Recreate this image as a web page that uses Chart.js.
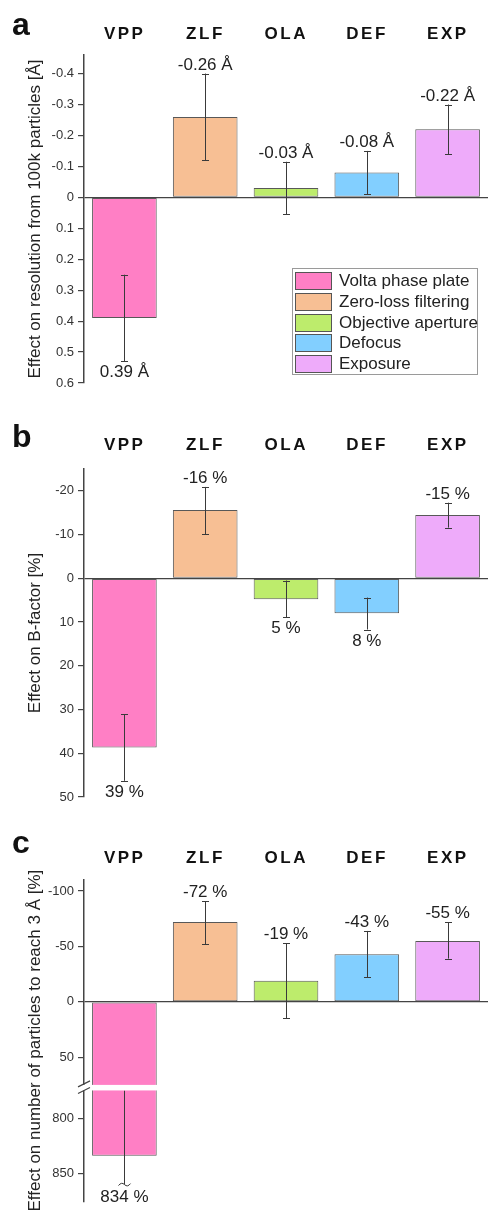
<!DOCTYPE html>
<html>
<head>
<meta charset="utf-8">
<script src="https://cdn.jsdelivr.net/npm/chart.js@4.4.1/dist/chart.umd.min.js"></script>
<style>
  body { margin: 0; background: #fff; }
  .panel { position: relative; width: 488px; }
  canvas { display: block; }
  #legend { position: absolute; left: 292px; top: 268px; width: 186px; height: 107px; border: 1px solid #9a9a9a; box-sizing: border-box; font: 17px "Liberation Sans", Arial, sans-serif; color: #222; }
  #legend .item { position: absolute; left: 2px; height: 18px; }
  #legend .sw { position: absolute; left: 0; top: 0; width: 37px; height: 18px; border: 1px solid #555; box-sizing: border-box; }
  #legend .txt { position: absolute; left: 44px; top: -1px; line-height: 19px; white-space: nowrap; }
</style>
</head>
<body>
<div class="panel" style="height:400px"><canvas id="chartA" width="488" height="400"></canvas><div id="legend"></div></div>
<div class="panel" style="height:415px"><canvas id="chartB" width="488" height="415"></canvas></div>
<div class="panel" style="height:398px"><canvas id="chartC" width="488" height="398"></canvas></div>
<script>
const categories = ["VPP", "ZLF", "OLA", "DEF", "EXP"];
const methodNames = ["Volta phase plate", "Zero-loss filtering", "Objective aperture", "Defocus", "Exposure"];
const barColors = ["#ff7fc5", "#f7bf94", "#bdec6c", "#82cfff", "#eeabfa"];

// a: effect on resolution from 100k particles [Å]
const resolutionValues  = [0.39, -0.26, -0.03, -0.08, -0.22];
const resolutionErrLow  = [0.25, -0.40, -0.115, -0.15, -0.30];
const resolutionErrHigh = [0.53, -0.12, 0.055, -0.01, -0.14];
const resolutionLabels  = ["0.39 Å", "-0.26 Å", "-0.03 Å", "-0.08 Å", "-0.22 Å"];
const resolutionTicks   = [-0.4, -0.3, -0.2, -0.1, 0, 0.1, 0.2, 0.3, 0.4, 0.5, 0.6];

// b: effect on B-factor [%]
const bfactorValues  = [38.7, -15.6, 4.8, 8.0, -14.5];
const bfactorErrLow  = [31.1, -20.9, 0.5, 4.4, -17.3];
const bfactorErrHigh = [46.3, -10.1, 8.9, 11.7, -11.6];
const bfactorLabels  = ["39 %", "-16 %", "5 %", "8 %", "-15 %"];
const bfactorTicks   = [-20, -10, 0, 10, 20, 30, 40, 50];

// c: effect on number of particles to reach 3 Å [%]
const particleValues  = [834, -72, -19, -43, -55];
const particleErrLow  = [760, -91, -53, -64, -72];
const particleErrHigh = [860, -52, 15, -22, -39];
const particleLabels  = ["834 %", "-72 %", "-19 %", "-43 %", "-55 %"];
const particleTicks   = [-100, -50, 0, 50, 800, 850];
const particleGap     = [75, 775];

const FONT = '"Liberation Sans", Arial, sans-serif';

// broken axis for panel c: values between the gap ends are squeezed out
function brk(v) {
  if (v <= particleGap[0]) return v;
  if (v >= particleGap[1]) return v - particleGap[1] + particleGap[0] + 5;
  return particleGap[0] + 5;
}
const same = v => v;

const panelPlugin = {
  id: 'panel',
  afterDatasetsDraw(chart, args, o) {
    const ctx = chart.ctx;
    const ys = chart.scales.y;
    const area = chart.chartArea;
    const meta = chart.getDatasetMeta(0);
    const tf = o.transform;
    ctx.save();
    ctx.strokeStyle = '#3a3a3a';
    ctx.lineWidth = 1;
    const ends = [];
    meta.data.forEach((bar, i) => {
      const x = Math.round(bar.x) + 0.5;
      const lo = o.errLow[i], hi = o.errHigh[i];
      const broken = o.gap && lo > o.gap[0] && lo < o.gap[1];
      const y1 = ys.getPixelForValue(tf(lo));
      const y2 = ys.getPixelForValue(tf(hi));
      ctx.beginPath();
      ctx.moveTo(x, y1); ctx.lineTo(x, y2);
      if (!broken) { ctx.moveTo(x - 3.5, Math.round(y1) + 0.5); ctx.lineTo(x + 3.5, Math.round(y1) + 0.5); }
      if (broken) {
        ctx.moveTo(x - 6, y2 + 1);
        ctx.quadraticCurveTo(x - 3, y2 - 3, x, y2);
        ctx.quadraticCurveTo(x + 3, y2 + 3, x + 6, y2 - 1);
      } else {
        ctx.moveTo(x - 3.5, Math.round(y2) + 0.5); ctx.lineTo(x + 3.5, Math.round(y2) + 0.5);
      }
      ctx.stroke();
      ends.push({ x: bar.x, top: Math.min(y1, y2), bottom: Math.max(y1, y2), broken });
    });

    if (o.gap) {
      const yA = ys.getPixelForValue(o.gap[0]);
      const yB = ys.getPixelForValue(tf(o.gap[1]));
      ctx.fillStyle = '#fff';
      ctx.fillRect(area.left - 8, yA, area.right - area.left + 8, yB - yA);
      ctx.strokeStyle = '#444';
      ctx.lineWidth = 1.2;
      ctx.beginPath();
      ctx.moveTo(area.left - 6, yA + 2); ctx.lineTo(area.left + 6, yA - 4);
      ctx.moveTo(area.left - 6, yB + 3); ctx.lineTo(area.left + 6, yB - 3);
      ctx.stroke();
    }

    ctx.fillStyle = '#222';
    ctx.font = '17px ' + FONT;
    ctx.textAlign = 'center';
    ctx.textBaseline = 'alphabetic';
    ends.forEach((e, i) => {
      if (o.values[i] < 0) ctx.fillText(o.labels[i], e.x, e.top - 4);
      else ctx.fillText(o.labels[i], e.x, e.bottom + (e.broken ? 17 : 16));
    });
    ctx.restore();
  },
  afterDraw(chart, args, o) {
    const ctx = chart.ctx;
    const xs = chart.scales.x;
    ctx.save();
    ctx.fillStyle = '#111';
    ctx.textBaseline = 'alphabetic';
    ctx.font = 'bold 32px ' + FONT;
    ctx.textAlign = 'left';
    ctx.fillText(o.letter, 12, o.letterY);
    ctx.font = 'bold 17px ' + FONT;
    ctx.letterSpacing = '2.5px';
    ctx.textAlign = 'center';
    chart.data.labels.forEach((lab, i) => {
      ctx.fillText(lab, xs.getPixelForValue(i) + 0.25, o.catY);
    });
    ctx.restore();
  }
};

function makeChart(id, cfg) {
  const tf = cfg.transform || same;
  return new Chart(document.getElementById(id), {
    type: 'bar',
    data: {
      labels: categories,
      datasets: [{
        data: cfg.values.map(tf),
        backgroundColor: barColors,
        borderColor: '#585858',
        borderWidth: 1,
        borderSkipped: false,
        barPercentage: 0.8,
        categoryPercentage: 1
      }]
    },
    options: {
      responsive: false,
      animation: false,
      devicePixelRatio: 1,
      layout: { padding: { top: cfg.top, bottom: cfg.bottom, left: 0, right: 0 } },
      scales: {
        x: { display: false },
        y: {
          reverse: true,
          min: cfg.min,
          max: cfg.max,
          afterFit: s => { s.width = 84; },
          afterBuildTicks: s => { s.ticks = cfg.ticks.map(v => ({ value: tf(v) })); },
          ticks: {
            callback: (v, i) => cfg.tickText(cfg.ticks[i]),
            font: { family: FONT, size: 13 },
            color: '#333',
            padding: 4
          },
          grid: {
            drawOnChartArea: true,
            color: c => (c.tick && c.tick.value === 0) ? '#444' : 'rgba(0,0,0,0)',
            tickColor: '#444',
            tickLength: 6,
            lineWidth: 1.2
          },
          border: { color: '#444', width: 1.5 },
          title: {
            display: true,
            text: cfg.title,
            font: { family: FONT, size: 17 },
            color: '#222',
            padding: { top: 25, bottom: 0 }
          }
        }
      },
      plugins: {
        legend: { display: false },
        tooltip: { enabled: false },
        panel: {
          transform: tf,
          values: cfg.values,
          errLow: cfg.errLow,
          errHigh: cfg.errHigh,
          labels: cfg.labels,
          gap: cfg.gap,
          letter: cfg.letter,
          letterY: cfg.letterY,
          catY: cfg.catY
        }
      }
    },
    plugins: [panelPlugin]
  });
}

makeChart('chartA', {
  values: resolutionValues, errLow: resolutionErrLow, errHigh: resolutionErrHigh,
  labels: resolutionLabels, ticks: resolutionTicks,
  tickText: v => v === 0 ? '0' : v.toFixed(1),
  title: 'Effect on resolution from 100k particles [Å]',
  min: -0.46, max: 0.6, top: 55, bottom: 17,
  letter: 'a', letterY: 35, catY: 39
});

makeChart('chartB', {
  values: bfactorValues, errLow: bfactorErrLow, errHigh: bfactorErrHigh,
  labels: bfactorLabels, ticks: bfactorTicks,
  tickText: v => String(v),
  title: 'Effect on B-factor [%]',
  min: -25, max: 50, top: 69, bottom: 18,
  letter: 'b', letterY: 47, catY: 50
});

makeChart('chartC', {
  values: particleValues, errLow: particleErrLow, errHigh: particleErrHigh,
  labels: particleLabels, ticks: particleTicks,
  tickText: v => String(v),
  transform: brk, gap: particleGap,
  title: 'Effect on number of particles to reach 3 Å [%]',
  min: -110, max: 180, top: 65, bottom: 6,
  letter: 'c', letterY: 38, catY: 48
});

// legend inside panel a
const legend = document.getElementById('legend');
methodNames.forEach((name, i) => {
  const item = document.createElement('div');
  item.className = 'item';
  item.style.top = (3 + i * 20.8) + 'px';
  item.innerHTML = '<div class="sw" style="background:' + barColors[i] + '"></div><div class="txt"></div>';
  item.querySelector('.txt').textContent = name;
  legend.appendChild(item);
});
</script>
</body>
</html>
